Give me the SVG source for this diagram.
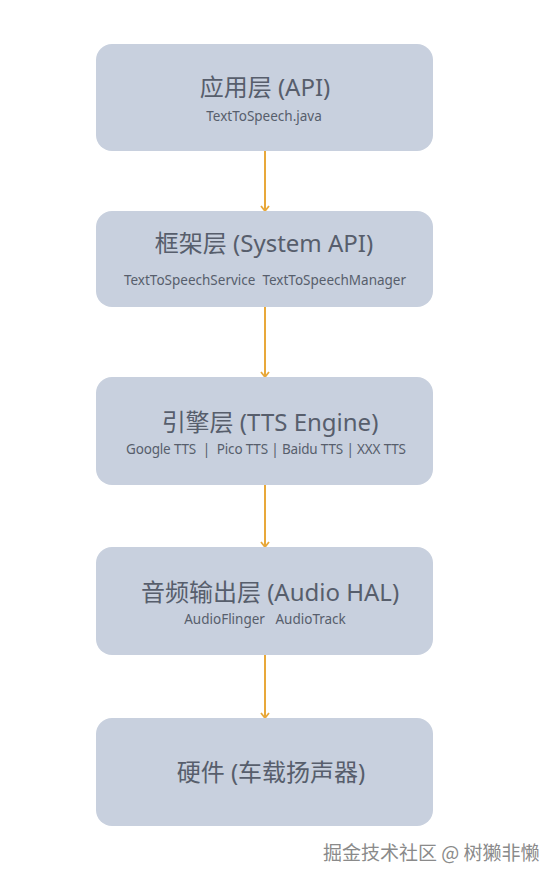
<svg xmlns="http://www.w3.org/2000/svg" width="558" height="882" viewBox="0 0 558 882" xml:space="preserve">
<defs>
<style>
.box{fill:#C8D0DE;}
.t{font-family:"Noto Sans","Noto Sans CJK SC",sans-serif;fill:#575E6C;text-anchor:middle;white-space:pre;}
.title{font-size:24px;}
.sub{font-size:13.5px;}
.edge{stroke:#E8A83A;stroke-width:2;fill:none;}
.wm{font-family:"Noto Sans CJK SC",sans-serif;font-size:19px;fill:#8A8A8A;stroke:#FFFFFF;stroke-width:0.6;paint-order:stroke;}
</style>
<marker id="ah" viewBox="0 0 10 10" refX="9" refY="5" markerWidth="10" markerHeight="10" markerUnits="userSpaceOnUse" orient="auto">
<path d="M4,1 L9,5 L4,9" fill="none" stroke="#E8A83A" stroke-width="1.8"/>
</marker>
</defs>
<rect width="558" height="882" fill="#FFFFFF"/>
<g id="connectors">
<line class="edge" x1="265" y1="151" x2="265" y2="211" marker-end="url(#ah)"/>
<line class="edge" x1="265" y1="307" x2="265" y2="377" marker-end="url(#ah)"/>
<line class="edge" x1="265" y1="485" x2="265" y2="547" marker-end="url(#ah)"/>
<line class="edge" x1="265" y1="655" x2="265" y2="718" marker-end="url(#ah)"/>
</g>
<g id="app">
<rect class="box" x="96" y="44" width="337" height="107" rx="16"/>
<text class="t title" x="265" y="96">应用层 (API)</text>
<text class="t sub" x="264" y="121">TextToSpeech.java</text>
</g>
<g id="framework">
<rect class="box" x="96" y="211" width="337" height="96" rx="16"/>
<text class="t title" x="264" y="252">框架层 (System API)</text>
<text class="t sub" x="265" y="285">TextToSpeechService  TextToSpeechManager</text>
</g>
<g id="engine">
<rect class="box" x="96" y="377" width="337" height="108" rx="16"/>
<text class="t title" x="270" y="431">引擎层 (TTS Engine)</text>
<text class="t sub" x="266" y="454" textLength="280" lengthAdjust="spacing">Google TTS  |  Pico TTS | Baidu TTS | XXX TTS</text>
</g>
<g id="audio">
<rect class="box" x="96" y="547" width="337" height="108" rx="16"/>
<text class="t title" x="270" y="601">音频输出层 (Audio HAL)</text>
<text class="t sub" x="265" y="624">AudioFlinger   AudioTrack</text>
</g>
<g id="hardware">
<rect class="box" x="96" y="718" width="337" height="108" rx="16"/>
<text class="t title" x="271" y="781">硬件 (车载扬声器)</text>
</g>
<text class="wm" x="323" y="860">掘金技术社区 @ 树獭非懒</text>
</svg>
